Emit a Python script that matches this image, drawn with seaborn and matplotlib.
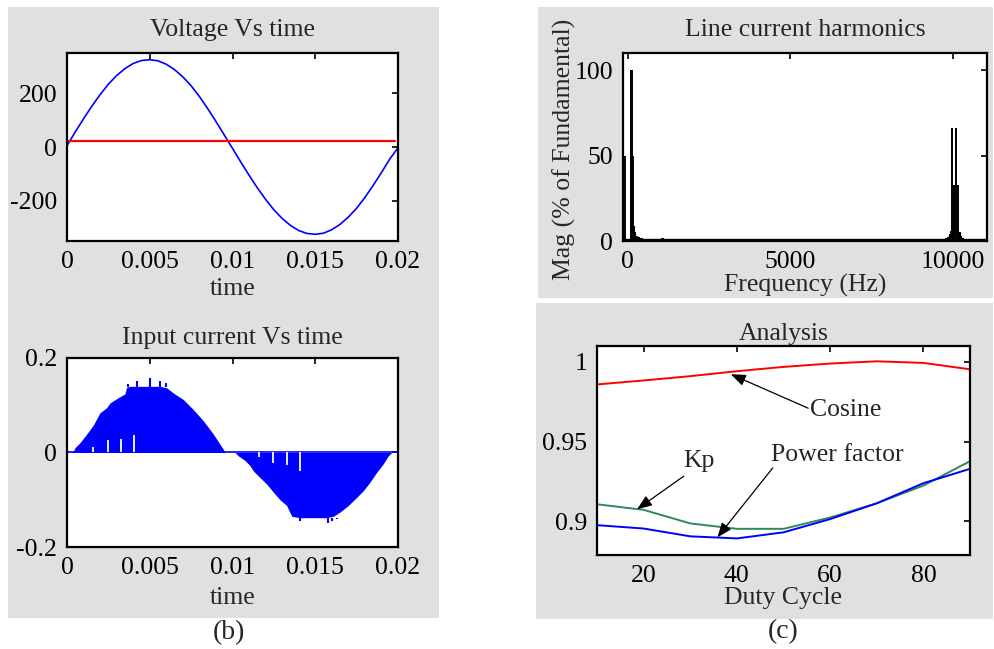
import matplotlib
matplotlib.use("Agg")
import matplotlib.pyplot as plt
from matplotlib.patches import Rectangle
import seaborn as sns
import pandas as pd

# ---------------- data ----------------
# Voltage Vs time
v_time = [0.0, 0.0005, 0.001, 0.0015, 0.002, 0.0025, 0.003, 0.0035, 0.004, 0.0045,
          0.005, 0.0055, 0.006, 0.0065, 0.007, 0.0075, 0.008, 0.0085, 0.009, 0.0095,
          0.010, 0.0105, 0.011, 0.0115, 0.012, 0.0125, 0.013, 0.0135, 0.014, 0.0145,
          0.015, 0.0155, 0.016, 0.0165, 0.017, 0.0175, 0.018, 0.0185, 0.019, 0.0195, 0.020]
v_volt = [5, 56, 105, 152, 195, 234, 266, 292, 311, 322,
          325, 321, 308, 288, 261, 228, 188, 143, 95, 45,
          -5, -56, -105, -152, -195, -234, -266, -292, -311, -322,
          -325, -321, -308, -288, -261, -228, -188, -143, -95, -45, -3]
ref_time = [0.0, 0.0198]
ref_volt = [22, 22]

# Input current envelope
i_time = [0.0, 0.00038, 0.00048, 0.00079, 0.00119, 0.00159, 0.00199, 0.0024, 0.0026,
          0.0031, 0.0035, 0.0036, 0.0038, 0.00562, 0.00602, 0.00642, 0.00703, 0.00763,
          0.00824, 0.00884, 0.00944, 0.00955, 0.01015, 0.01035, 0.01076, 0.01106,
          0.01126, 0.01166, 0.01207, 0.01247, 0.01287, 0.01327, 0.01358, 0.01408,
          0.01569, 0.01609, 0.0165, 0.017, 0.0175, 0.0179, 0.0183, 0.01871, 0.01911,
          0.01941, 0.01962, 0.0200]
i_env = [0.0, 0.002, 0.010, 0.021, 0.039, 0.058, 0.084, 0.095, 0.105,
         0.116, 0.124, 0.138, 0.140, 0.140, 0.137, 0.126, 0.112, 0.091,
         0.067, 0.039, 0.007, 0.0, 0.0, -0.007, -0.017, -0.028,
         -0.039, -0.053, -0.067, -0.084, -0.100, -0.112, -0.135, -0.138,
         -0.138, -0.135, -0.126, -0.112, -0.095, -0.081, -0.063, -0.042, -0.024,
         -0.007, 0.0, 0.0]
spike_time = [0.00366, 0.0042, 0.0050, 0.0056, 0.0060, 0.01408, 0.0158, 0.0160, 0.0163]
spike_top = [0.144, 0.152, 0.158, 0.152, 0.148, -0.146, -0.149, -0.145, -0.141]
notch_time = [0.00157, 0.0025, 0.00326, 0.00404, 0.0116, 0.01247, 0.01331, 0.01408]
notch_depth = [0.0126, 0.026, 0.029, 0.037, -0.0105, -0.023, -0.027, -0.039]

# Line current harmonics
line_freq = [-90, 85, 125, 165, 9960, 10090, 10155]
line_mag = [50, 100, 100, 50, 66, 66, 33]
small_freq = [160, 210, 260, 310, 360, 420, 1050, 9780, 9850, 9900, 9940,
              10026, 10190, 10230, 10280]
small_mag = [9, 5, 3, 2.5, 2, 1.5, 1.5, 1.5, 2.5, 4, 6, 33, 5, 3, 1.5]

# Analysis
duty = [10, 20, 30, 40, 50, 60, 70, 80, 90]
cosine = [0.9859, 0.9884, 0.9911, 0.9942, 0.9969, 0.9990, 1.0004, 0.9994, 0.9954]
kp = [0.9108, 0.9073, 0.8988, 0.8954, 0.8954, 0.9025, 0.9114, 0.9225, 0.9378]
pf = [0.8977, 0.8956, 0.8907, 0.8894, 0.8932, 0.9015, 0.9114, 0.9240, 0.9330]

# ---------------- style ----------------
sns.set_style("white")
plt.rcParams["font.family"] = ["Liberation Serif", "DejaVu Serif"]
FS = 18.5
BLUE = "#0000ff"
RED = "#ff0000"
GREEN = "#2e8b57"
GRAY = "#e0e0e0"

fig = plt.figure(figsize=(9.95, 6.49), dpi=100)
fig.patch.set_facecolor("white")

W, H = 995.0, 649.0


def frect(x0, y0, x1, y1):
    fig.patches.append(Rectangle((x0 / W, 1 - y1 / H), (x1 - x0) / W, (y1 - y0) / H,
                                 transform=fig.transFigure, facecolor=GRAY,
                                 edgecolor="none", zorder=-10))


frect(8, 7, 439, 618)
frect(538, 7, 993, 298)
frect(536, 303, 993, 619)


def add_ax(l, t, r, b):
    ax = fig.add_axes([l / W, 1 - b / H, (r - l) / W, (b - t) / H])
    ax.set_facecolor("white")
    for s in ax.spines.values():
        s.set_color("black")
        s.set_linewidth(1.6)
        s.set_visible(True)
    ax.tick_params(direction="in", top=True, right=True, length=4, width=1.2,
                   labelsize=FS, pad=7, colors="black")
    return ax


# ---- Voltage Vs time ----
ax1 = add_ax(67, 53, 398, 241)
sns.lineplot(x=v_time, y=v_volt, ax=ax1, color=BLUE, lw=1.2, estimator=None, sort=False)
sns.lineplot(x=ref_time, y=ref_volt, ax=ax1, color=RED, lw=1.6, estimator=None, sort=False)
ax1.set_xlim(0, 0.02)
ax1.set_ylim(-350, 350)
ax1.set_xticks([0, 0.005, 0.01, 0.015, 0.02])
ax1.set_xticklabels(["0", "0.005", "0.01", "0.015", "0.02"])
ax1.set_yticks([-200, 0, 200])
ax1.set_yticklabels(["-200", "0", "200"])
ax1.set_title("Voltage Vs time", fontsize=FS, pad=12)
ax1.set_xlabel("time", fontsize=FS, labelpad=4)

# ---- Input current Vs time ----
ax2 = add_ax(67, 358, 398, 547)
ax2.fill_between(i_time, 0, i_env, color=BLUE, lw=0)
sns.lineplot(x=[i_time[0], i_time[-1]], y=[0, 0], ax=ax2, color=BLUE, lw=1.2,
             estimator=None)
ax2.vlines(spike_time, [i_env[11]] * 5 + [i_env[33]] * 4, spike_top, color=BLUE, lw=1.5)
ax2.vlines(notch_time, 0, notch_depth, color="white", lw=1.3)
ax2.set_xlim(0, 0.02)
ax2.set_ylim(-0.2, 0.2)
ax2.set_xticks([0, 0.005, 0.01, 0.015, 0.02])
ax2.set_xticklabels(["0", "0.005", "0.01", "0.015", "0.02"])
ax2.set_yticks([-0.2, 0, 0.2])
ax2.set_yticklabels(["-0.2", "0", "0.2"])
ax2.set_title("Input current Vs time", fontsize=FS, pad=10)
ax2.set_xlabel("time", fontsize=FS, labelpad=6)

# ---- Line current harmonics ----
ax3 = add_ax(623, 53, 987, 241)
ax3.bar(small_freq, small_mag, width=45, color="black", edgecolor="black", lw=0.8)
ax3.vlines(line_freq, 0, line_mag, color="black", lw=1.4)
ax3.axhline(0.4, color="black", lw=2.4)
ax3.set_xlim(-150, 11050)
ax3.set_ylim(0, 110)
ax3.set_xticks([0, 5000, 10000])
ax3.set_xticklabels(["0", "5000", "10000"])
ax3.set_yticks([0, 50, 100])
ax3.set_yticklabels(["0", "50", "100"])
ax3.set_title("Line current harmonics", fontsize=FS, pad=12)
ax3.set_xlabel("Frequency (Hz)", fontsize=FS, labelpad=1)
ax3.set_ylabel("Mag (% of Fundamental)", fontsize=FS)
ax3.yaxis.set_label_coords(-0.128, 0.49)

# ---- Analysis ----
ax4 = add_ax(597, 346, 970, 555)
df = pd.DataFrame({"duty": duty, "cosine": cosine, "kp": kp, "pf": pf})
sns.lineplot(data=df, x="duty", y="cosine", ax=ax4, color=RED, lw=1.4)
sns.lineplot(data=df, x="duty", y="kp", ax=ax4, color=GREEN, lw=1.4)
sns.lineplot(data=df, x="duty", y="pf", ax=ax4, color=BLUE, lw=1.4)
ax4.set_xlim(10, 90)
ax4.set_ylim(0.879, 1.01)
ax4.set_xticks([20, 40, 60, 80])
ax4.set_yticks([0.9, 0.95, 1.0])
ax4.set_yticklabels(["0.9", "0.95", "1"])
ax4.set_title("Analysis", fontsize=FS, pad=4)
ax4.set_xlabel("Duty Cycle", fontsize=FS, labelpad=0)
ax4.set_ylabel("")

arrow = dict(arrowstyle="-|>,head_length=0.9,head_width=0.35", color="black",
             lw=0.9, shrinkA=0, shrinkB=0)
ax4.annotate("", xy=(38.7, 0.9923), xytext=(55.3, 0.971), arrowprops=arrow)
ax4.text(55.6, 0.970, "Cosine", fontsize=FS, va="center", ha="left")
ax4.annotate("", xy=(18.6, 0.9077), xytext=(28.6, 0.9284), arrowprops=arrow)
ax4.text(28.6, 0.9378, "Kp", fontsize=FS, va="center", ha="left")
ax4.annotate("", xy=(35.8, 0.8900), xytext=(47.7, 0.9336), arrowprops=arrow)
ax4.text(47.4, 0.9419, "Power factor", fontsize=FS, va="center", ha="left")

# panel captions
fig.text(229 / W, 1 - 633 / H, "(b)", fontsize=20, ha="center", va="center")
fig.text(783 / W, 1 - 632 / H, "(c)", fontsize=20, ha="center", va="center")

fig.savefig("out.png", dpi=100, facecolor="white")
